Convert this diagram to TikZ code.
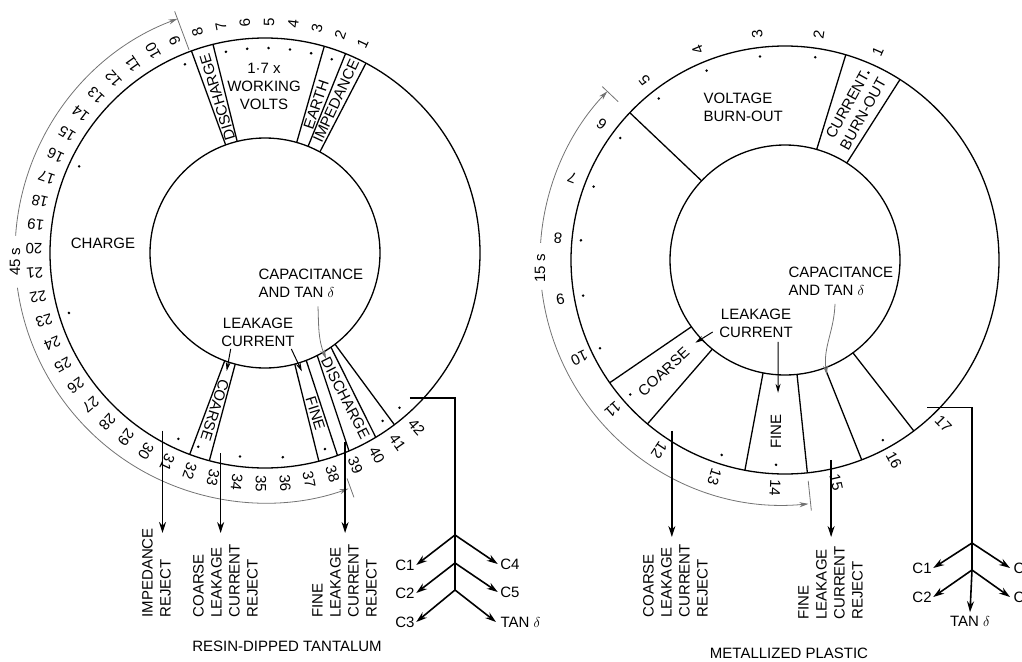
\documentclass[tikz,border=0pt]{standalone}
\usepackage{fontspec}
\setmainfont{Liberation Sans}
\usetikzlibrary{arrows.meta}
\begin{document}
\begin{tikzpicture}[x=1pt,y=1pt,line width=1.3pt,
  num/.style={font=\fontsize{15}{15}\selectfont, inner sep=0pt},
  lab/.style={font=\fontsize{15}{18}\selectfont, inner sep=0pt, align=center},
  rlab/.style={font=\fontsize{15}{18}\selectfont, inner sep=0pt, align=left, rotate=90, anchor=west},
  dimarc/.style={line width=0.8pt, draw=black!55},
  dimarrow/.style={line width=0.8pt, draw=black!55, -{Stealth[length=9pt,width=5pt]}},
  conn/.style={line width=1.6pt},
  arr/.style={line width=1.6pt, -{Stealth[length=11pt,width=7pt]}},
  larr/.style={line width=1pt, -{Stealth[length=9pt,width=5pt]}},
]
\useasboundingbox (0,0) rectangle (1022,-661);
\coordinate (ybotL) at (0,-533);
\coordinate (ybotR) at (0,-537);

% ================= LEFT WHEEL =================
\begin{scope}[shift={(265,-253)}]
  \draw (0,0) circle[radius=115];
  \draw (0,0) circle[radius=215];
  % top bands
  \draw (104:115) -- (104:215);
  \draw (110:115) -- (110:215);
  \draw (74:115) -- (74:215);
  \draw (68:115) -- (68:215);
  \draw (61.5:115) -- (62:215);
  % bottom bands
  \draw (249.5:115) -- (249.5:215);
  \draw (255:115) -- (255:215);
  \draw (285:115) -- (284.5:215);
  \draw (291:115) -- (289.7:215);
  \draw (297:115) -- (293:215);
  \draw (305:115) -- (301:215);
  \draw (307.5:115) -- (307:215);
  % band texts
  \node[lab, rotate=107] (tDisA) at (107:163) {DISCHARGE};
  \node[lab, rotate=71] (tEarth) at (71:157) {EARTH};
  \node[lab, rotate=65] (tImp) at (65:168) {IMPEDANCE};
  \node[lab, rotate=252.3] (tCoarseL) at (252.3:165) {COARSE};
  \node[lab, rotate=287.5] (tFineL) at (287.5:168) {FINE};
  \node[lab, rotate=297] (tDisB) at (299:166) {DISCHARGE};
  % numbers
  \foreach \k in {1,...,42}{
    \pgfmathsetmacro{\ang}{65+6*(\k-1)}
    \node[num, rotate=\ang] (Ln\k) at (\ang:231) {\k};
  }
  \foreach \k in {2,...,7,9,...,29,31,32,34,...,38,41,42}{
    \pgfmathsetmacro{\ang}{65+6*(\k-1)}
    \fill (\ang:205) circle[radius=1.4];
  }
  % 45 s dimension
  \draw[dimarrow] (176:250) arc[start angle=176, end angle=110.5, radius=250];
  \draw[dimarrow] (188:250) arc[start angle=188, end angle=289.5, radius=250];
  \draw[dimarc] (110.5:217) -- (110.5:258);
  \draw[dimarc] (290:240) -- (290:260);
  \node[lab, rotate=90] (t45) at (182:250) {45 s};
  % coordinates
  \coordinate (LdImp) at (240:205);
  \coordinate (LdCoarse) at (257.5:205);
  \coordinate (LdFine) at (293:205);
  \coordinate (LdOut) at (315:205);
  \coordinate (LtipC) at (252:124);
  \coordinate (LtipF) at (287.3:124);
  \coordinate (LtipD) at (300:122);
\end{scope}

\node[lab] (wv) at (264,-86) {1·7 x\\WORKING\\VOLTS};
\node[lab] (charge) at (103,-243) {CHARGE};
\node[lab, align=left, anchor=west] (capL) at (258,-283.5) {CAPACITANCE\\AND TAN $\delta$};
\node[lab] (lcL) at (258,-332) {LEAKAGE\\CURRENT};

\draw[larr] ([xshift=10pt,yshift=-2pt]lcL.south west) -- (LtipC);
\draw[larr] ([xshift=-4pt,yshift=-2pt]lcL.south east) -- (LtipF);
\draw[dimarrow] ([xshift=60pt,yshift=-8pt]capL.south west) to[out=-88,in=112] (LtipD);

% reject arrows
\draw[arr] (LdImp) -- (LdImp |- ybotL);
\draw[arr] (LdCoarse) -- (LdCoarse |- ybotL);
\draw[arr] (LdFine) -- (LdFine |- ybotL);

\node[rlab] (rImp) at (156.5,-618) {IMPEDANCE\\REJECT};
\node[rlab] (rCoarseL) at (225.5,-618) {COARSE\\LEAKAGE\\CURRENT\\REJECT};
\node[rlab] (rFineL) at (344.5,-618) {FINE\\LEAKAGE\\CURRENT\\REJECT};

% branch
\coordinate (Lb1) at (455,-535);
\coordinate (Lb2) at (455,-563);
\coordinate (Lb3) at (455,-590);
\draw[conn] (LdOut) -- (LdOut -| Lb1) -- (Lb3);
\node[lab] (LC1) at (405,-565) {C1};
\node[lab] (LC2) at (405,-593) {C2};
\node[lab] (LC3) at (405,-622) {C3};
\node[lab] (LC4) at (510,-564) {C4};
\node[lab] (LC5) at (510,-592) {C5};
\node[lab, anchor=west] (LTan) at (500,-622) {TAN $\delta$};
\draw[arr] (Lb1) -- ([xshift=1pt]LC1.east);
\draw[arr] (Lb2) -- ([xshift=1pt]LC2.east);
\draw[arr] (Lb3) -- ([xshift=1pt]LC3.east);
\draw[arr] (Lb1) -- ([xshift=-2pt]LC4.west);
\draw[arr] (Lb2) -- ([xshift=-2pt]LC5.west);
\draw[arr] (Lb3) -- ([xshift=-4pt]LTan.west);

\node[lab] (titleL) at (287,-646) {RESIN-DIPPED TANTALUM};

% ================= RIGHT WHEEL =================
\begin{scope}[shift={(785,-260)}]
  \draw (0,0) circle[radius=115];
  \draw (0,0) circle[radius=214];
  \draw (136.5:115) -- (136.5:214);
  \draw (57.5:115) -- (57.5:214);
  \draw (74:115) -- (73.5:214);
  \draw (215.5:115) -- (215:214);
  \draw (230.8:115) -- (230:214);
  \draw (259:115) -- (259.2:214);
  \draw (276:115) -- (276:214);
  \draw (290.3:115) -- (291:214);
  \draw (306.2:115) -- (307:214);
  \node[lab, rotate=61] (tCB) at (65:166) {CURRENT\\BURN-OUT};
  \node[lab, rotate=42.7] (tCoarseR) at (222.7:165) {COARSE};
  \node[lab, rotate=90] (tFineR) at (267:172) {FINE};
  \foreach \k in {1,...,17}{
    \pgfmathsetmacro{\ang}{66+15.5*(\k-1)}
    \node[num, rotate=\ang] (Rn\k) at (\ang:228) {\k};
  }
  \foreach \k in {1,...,11,13,14,16}{
    \pgfmathsetmacro{\ang}{66+15.5*(\k-1)}
    \fill (\ang:205) circle[radius=1.4];
  }
  \draw[dimarrow] (176:245) arc[start angle=176, end angle=136.5, radius=245];
  \draw[dimarrow] (187:245) arc[start angle=187, end angle=275.5, radius=245];
  \draw[dimarc] (136.5:230) -- (136.5:252);
  \draw[dimarc] (276:222) -- (276:252);
  \node[lab, rotate=90] (t15) at (182:245) {15 s};
  \coordinate (RdCoarse) at (236.5:205);
  \coordinate (RdFine) at (283:205);
  \coordinate (RdOut) at (314:205);
  \coordinate (RtipC) at (222.7:122);
  \coordinate (RtipF) at (267:133);
  \coordinate (RtipD) at (290:122);
\end{scope}

\node[lab, align=left, anchor=west] (vb) at (703,-107) {VOLTAGE\\BURN-OUT};
\node[lab, align=left, anchor=west] (capR) at (788,-281) {CAPACITANCE\\AND TAN $\delta$};
\node[lab] (lcR) at (756,-323) {LEAKAGE\\CURRENT};

\draw[larr] ([xshift=-6pt,yshift=-9pt]lcR.west) -- (RtipC);
\draw[larr] ([xshift=22pt,yshift=-4pt]lcR.south) -- (RtipF);
\draw[dimarrow] ([xshift=47pt,yshift=-8pt]capR.south west) to[out=-92,in=98] (RtipD);

\draw[arr] (RdCoarse) -- (RdCoarse |- ybotR);
\draw[arr] (RdFine) -- (RdFine |- ybotR);

\node[rlab] (rCoarseR) at (675.5,-618) {COARSE\\LEAKAGE\\CURRENT\\REJECT};
\node[rlab] (rFineR) at (830.5,-620) {FINE\\LEAKAGE\\CURRENT\\REJECT};

\coordinate (Rb1) at (972,-543);
\coordinate (Rb2) at (972,-570);
\draw[conn] (RdOut) -- (RdOut -| Rb1) -- (Rb2);
\node[lab] (RC1) at (922,-568) {C1};
\node[lab] (RC2) at (922,-597) {C2};
\node[lab, anchor=west] (RC4) at (1013,-568) {C4};
\node[lab, anchor=west] (RC5) at (1013,-597) {C5};
\node[lab] (RTan) at (970,-621) {TAN $\delta$};
\draw[arr] (Rb1) -- ([xshift=1pt]RC1.east);
\draw[arr] (Rb2) -- ([xshift=1pt]RC2.east);
\draw[arr] (Rb1) -- ([xshift=-3pt]RC4.west);
\draw[arr] (Rb2) -- ([xshift=-3pt]RC5.west);
\draw[arr] (Rb2) -- ([yshift=3pt]RTan.north);

\node[lab] (titleR) at (789,-653) {METALLIZED PLASTIC};
\end{tikzpicture}
\end{document}
